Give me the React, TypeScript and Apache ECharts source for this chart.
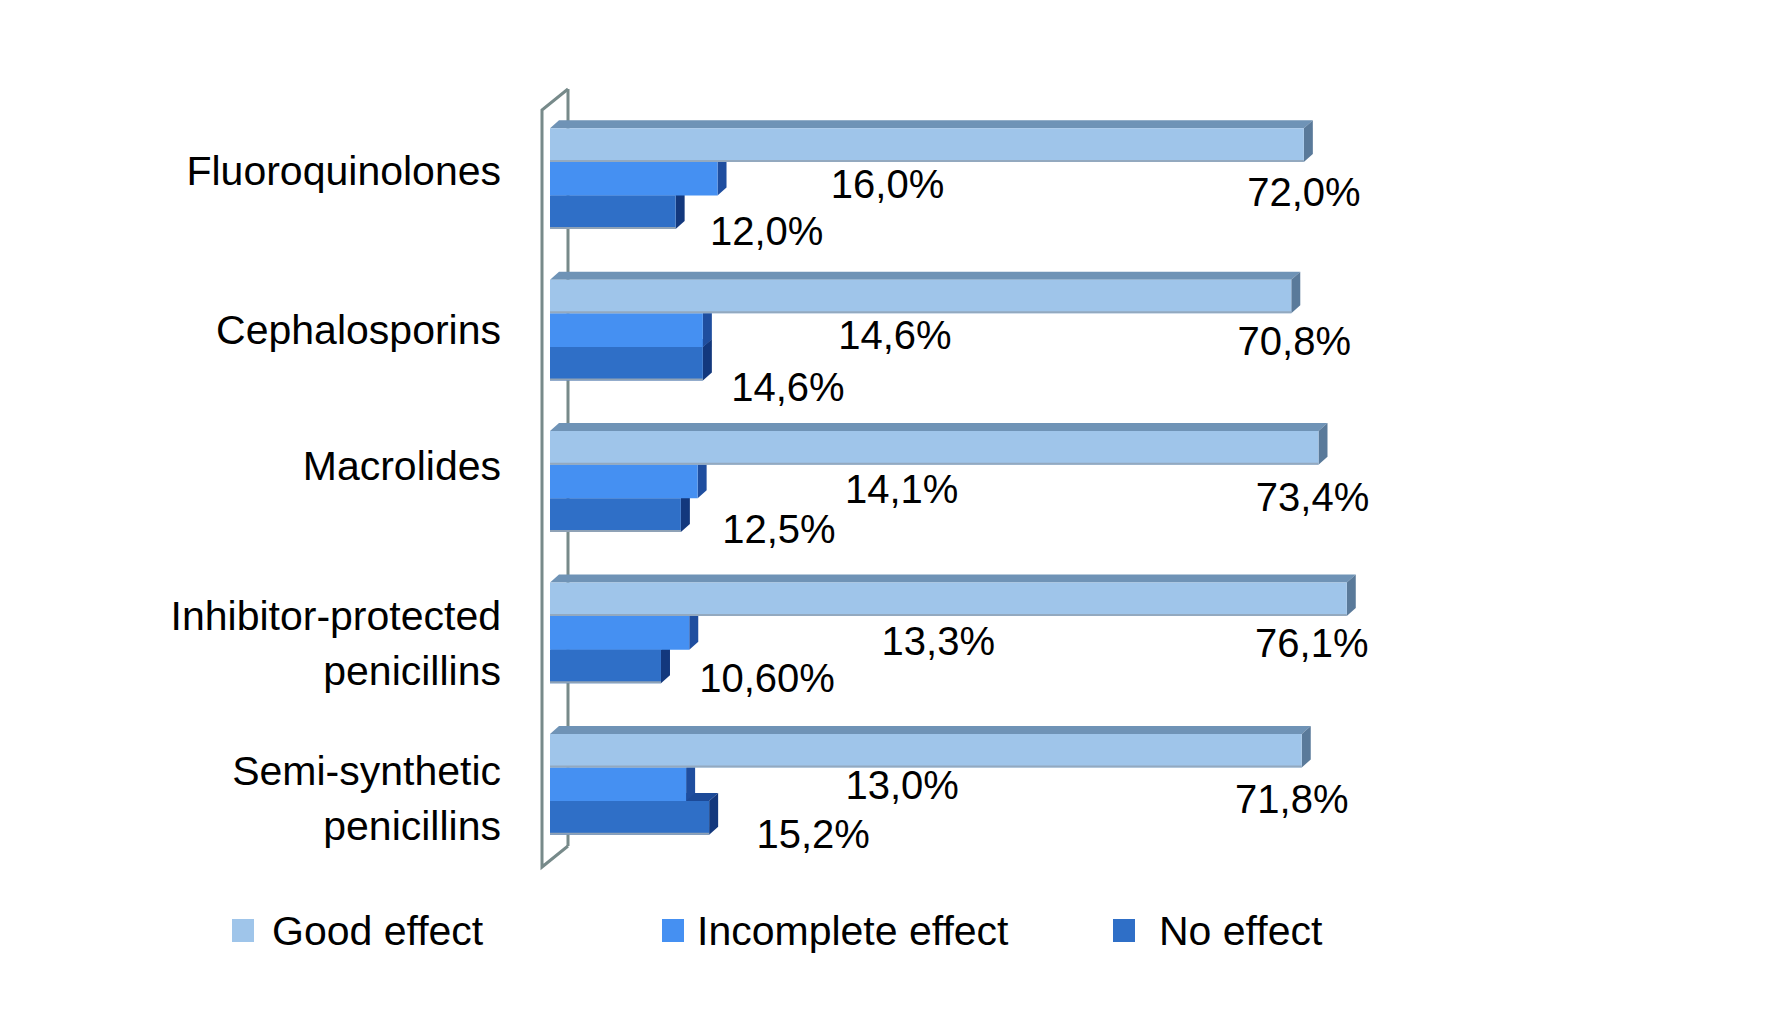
import React, { useEffect, useRef } from "react";
import * as echarts from "echarts";

const categories = [
  "Fluoroquinolones",
  "Cephalosporins",
  "Macrolides",
  "Inhibitor-protected\npenicillins",
  "Semi-synthetic\npenicillins",
];
const seriesNames = ["Good effect", "Incomplete effect", "No effect"];
const goodEffect = [72.0, 70.8, 73.4, 76.1, 71.8];
const incompleteEffect = [16.0, 14.6, 14.1, 13.3, 13.0];
const noEffect = [12.0, 14.6, 12.5, 10.6, 15.2];
const goodLabels = ["72,0%", "70,8%", "73,4%", "76,1%", "71,8%"];
const incompleteLabels = ["16,0%", "14,6%", "14,1%", "13,3%", "13,0%"];
const noLabels = ["12,0%", "14,6%", "12,5%", "10,60%", "15,2%"];

// layout: label offsets (px) from the bar end / bar centre
const goodLabelOffsets = [[0, 47], [3, 45], [-6, 49], [-35, 44], [-10, 48]];
const incompleteLabelOffsets = [[170, 5], [192, 5], [204, 7], [249, 8], [216, 1]];
const noLabelOffsets = [[91, 19], [85, 23], [98, 14], [106, 11], [104, 16]];
// layout: vertical shift (px) of each category label
const categoryLabelShift = [-8, 0, -16, 11, 14];

const palettes = [
  { front: "#9FC5EA", top: "#6F93B6", side: "#5A7A9A", edge: "#93A9BF" },
  { front: "#4590F2", top: "#2E62B8", side: "#1F4E9F", edge: "" },
  { front: "#2F6FC7", top: "#1C4A98", side: "#13387D", edge: "#8FA2B6" },
];

const DX = 9;
const DY = -8;
const FONT = "'Liberation Sans', Arial, sans-serif";

function makeBarSeries(
  idx: number,
  values: number[],
  labels: string[],
  offsets: number[][],
  z: number
) {
  const pal = palettes[idx];
  return {
    type: "custom",
    name: seriesNames[idx],
    z,
    clip: false,
    itemStyle: { color: pal.front },
    encode: { x: 0, y: 1 },
    data: values.map((v, i) => [v, i]),
    renderItem: (params: any, api: any) => {
      const v = api.value(0);
      const c = api.value(1);
      const end = api.coord([v, c]);
      const start = api.coord([0, c]);
      const band = api.size([0, 1])[1];
      const h = band * 0.222;
      const yTop = end[1] - 1.5 * h + idx * h;
      const x0 = start[0];
      const x1 = end[0];
      const i = params.dataIndex;
      const children: any[] = [
        {
          type: "polygon",
          shape: {
            points: [
              [x0, yTop],
              [x0 + DX, yTop + DY],
              [x1 + DX, yTop + DY],
              [x1, yTop],
            ],
          },
          style: { fill: pal.top },
        },
        {
          type: "polygon",
          shape: {
            points: [
              [x1, yTop],
              [x1 + DX, yTop + DY],
              [x1 + DX, yTop + h + DY],
              [x1, yTop + h],
            ],
          },
          style: { fill: pal.side },
        },
        {
          type: "rect",
          shape: { x: x0, y: yTop, width: x1 - x0, height: h },
          style: { fill: pal.front },
        },
      ];
      if (pal.edge) {
        children.push({
          type: "line",
          shape: { x1: x0, y1: yTop + h - 1, x2: x1, y2: yTop + h - 1 },
          style: { stroke: pal.edge, lineWidth: 2 },
        });
      }
      children.push({
        type: "text",
        x: x1 + offsets[i][0],
        y: yTop + h / 2 + offsets[i][1],
        style: {
          text: labels[i],
          fontSize: 40,
          fontFamily: FONT,
          fill: "#000000",
          align: "center",
          verticalAlign: "middle",
        },
      });
      return { type: "group", children };
    },
  };
}

const wallSeries = {
  type: "custom",
  name: "wall",
  z: 1,
  clip: false,
  silent: true,
  data: [[0, 0]],
  encode: { x: 0, y: 1 },
  renderItem: (params: any) => {
    const cs = params.coordSys;
    const x0 = cs.x;
    const top = cs.y;
    const bottom = cs.y + cs.height;
    const fx = x0 - 8;
    const bx = x0 + 18;
    const stroke = { stroke: "#778A8A", lineWidth: 3, fill: "none" };
    return {
      type: "group",
      children: [
        {
          type: "polyline",
          shape: {
            points: [
              [bx, top - 14],
              [fx, top + 7],
              [fx, bottom + 7],
              [bx, bottom - 14],
            ],
          },
          style: stroke,
        },
        {
          type: "line",
          shape: { x1: bx, y1: top - 14, x2: bx, y2: bottom - 14 },
          style: stroke,
        },
      ],
    };
  },
};

const legendBase = {
  orient: "horizontal",
  top: 910,
  padding: 0,
  itemWidth: 22,
  itemHeight: 23,
  icon: "rect",
  selectedMode: false,
};

const labelRich: any = {
  n: { fontSize: 41, lineHeight: 55, fontFamily: FONT, color: "#000000" },
};
categoryLabelShift.forEach((s, i) => {
  labelRich["sp" + i] = { fontSize: 1, lineHeight: Math.max(1, Math.abs(s) * 2) };
});

function categoryFormatter(value: string, index: number) {
  const s = categoryLabelShift[index] || 0;
  const lines = value
    .split("\n")
    .map((l) => "{n|" + l + "}")
    .join("\n");
  if (s < 0) return lines + "\n{sp" + index + "| }";
  if (s > 0) return "{sp" + index + "| }\n" + lines;
  return lines;
}

export default function App() {
  const ref = useRef<HTMLDivElement>(null);
  useEffect(() => {
    if (!ref.current) return;
    const chart = echarts.init(ref.current, undefined, { renderer: "svg" });
    chart.setOption({
      animation: false,
      backgroundColor: "#ffffff",
      grid: { left: 550, top: 103, width: 1047, height: 757 },
      xAxis: { type: "value", min: 0, max: 100, show: false },
      yAxis: {
        type: "category",
        data: categories,
        inverse: true,
        axisLine: { show: false },
        axisTick: { show: false },
        splitLine: { show: false },
        axisLabel: {
          interval: 0,
          margin: 49,
          fontSize: 41,
          lineHeight: 55,
          fontFamily: FONT,
          color: "#000000",
          align: "right",
          formatter: categoryFormatter,
          rich: labelRich,
        },
      },
      legend: [
        {
          ...legendBase,
          left: 232,
          data: [seriesNames[0]],
          textStyle: { fontSize: 41, fontFamily: FONT, color: "#000", padding: [0, 0, 0, 13] },
        },
        {
          ...legendBase,
          left: 662,
          data: [seriesNames[1]],
          textStyle: { fontSize: 41, fontFamily: FONT, color: "#000", padding: [0, 0, 0, 8] },
        },
        {
          ...legendBase,
          left: 1113,
          data: [seriesNames[2]],
          textStyle: { fontSize: 41, fontFamily: FONT, color: "#000", padding: [0, 0, 0, 19] },
        },
      ],
      series: [
        wallSeries,
        makeBarSeries(0, goodEffect, goodLabels, goodLabelOffsets, 4),
        makeBarSeries(1, incompleteEffect, incompleteLabels, incompleteLabelOffsets, 3),
        makeBarSeries(2, noEffect, noLabels, noLabelOffsets, 2),
      ],
    });
    return () => chart.dispose();
  }, []);
  return (
    <div
      ref={ref}
      style={{ position: "fixed", left: 0, top: 0, width: 1770, height: 1031, background: "#fff" }}
    />
  );
}
